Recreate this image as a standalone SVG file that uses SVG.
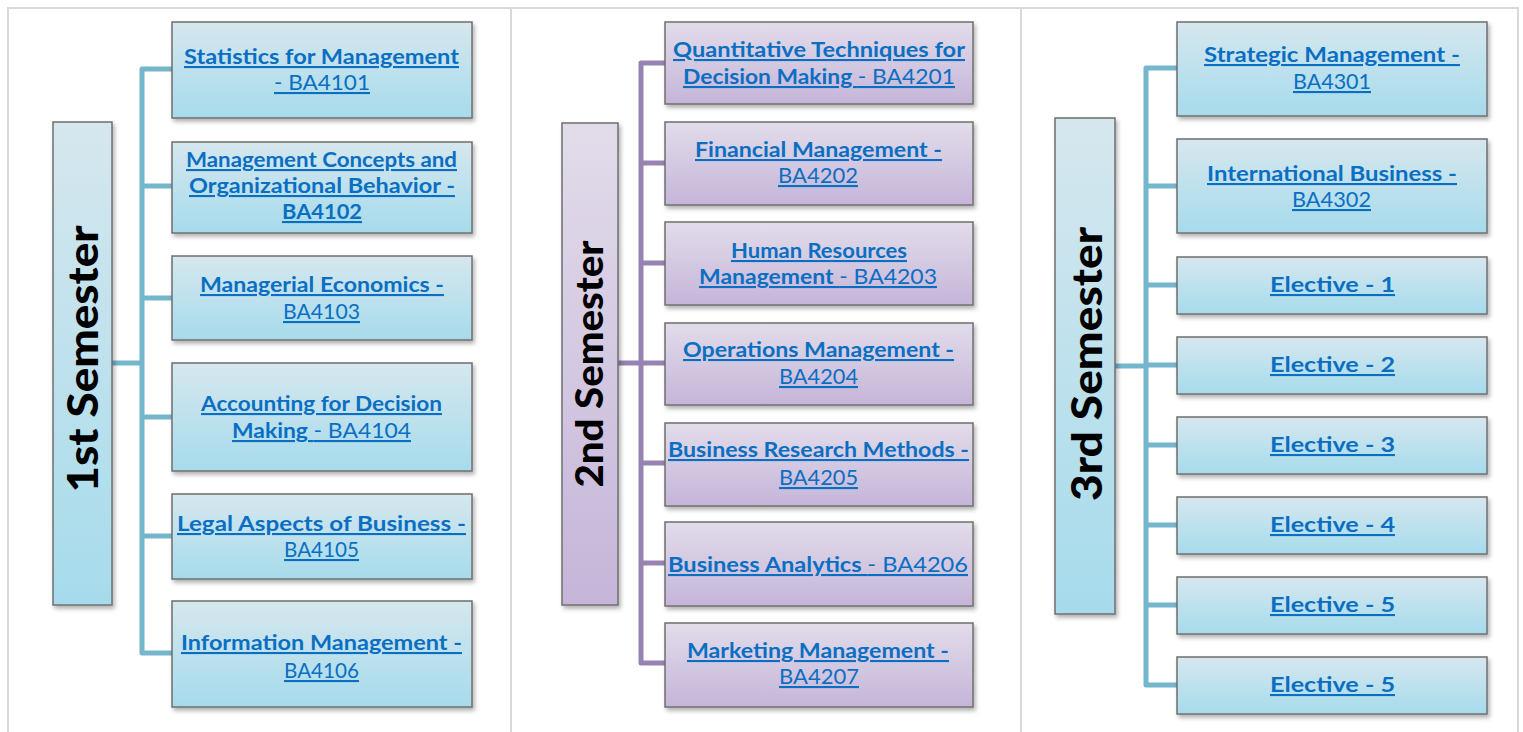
<svg xmlns="http://www.w3.org/2000/svg" width="1523" height="732" viewBox="0 0 1523 732">
<defs>
<linearGradient id="gBlue" x1="0" y1="0" x2="0" y2="1">
<stop offset="0" stop-color="#d6e7ee"/>
<stop offset="1" stop-color="#a6dbec"/>
</linearGradient>
<linearGradient id="gPurple" x1="0" y1="0" x2="0" y2="1">
<stop offset="0" stop-color="#e2dcea"/>
<stop offset="1" stop-color="#c5b5d9"/>
</linearGradient>
<filter id="sh" x="-10%" y="-10%" width="130%" height="130%">
<feDropShadow dx="2" dy="3" stdDeviation="2" flood-color="#000" flood-opacity="0.3"/>
</filter>
</defs>
<style>
.frame{fill:none;stroke:#d9d9d9;stroke-width:2}
.bb{fill:url(#gBlue);stroke:#6f6f6f;stroke-width:1.5;filter:url(#sh)}
.pb{fill:url(#gPurple);stroke:#6f6f6f;stroke-width:1.5;filter:url(#sh)}
.cb{fill:none;stroke:#74b6cb;stroke-width:5;stroke-linejoin:round}
.cp{fill:none;stroke:#9783b1;stroke-width:5;stroke-linejoin:round}
.t{font-family:Lato,"DejaVu Sans",sans-serif;font-size:21px;font-weight:bold;fill:#0a6fc2;text-decoration:underline}
.r{font-weight:normal}
.sem{font-family:Lato,"DejaVu Sans",sans-serif;font-weight:900;fill:#000;text-anchor:middle}
</style>
<rect width="1523" height="732" fill="#fff"/>
<g id="frame">
<path class="frame" d="M8 740 V8 H1518 V740 M511 8 V740 M1021 8 V740"/>
</g>
<g id="connectors">
<path class="cb" d="M112 363 H142"/>
<path class="cb" d="M172 69 H142 V653 H172 M142 186 H172 M142 298 H172 M142 417 H172 M142 536 H172"/>
<path class="cp" d="M618 363 H641"/>
<path class="cp" d="M665 63 H641 V663 H665 M641 163 H665 M641 263 H665 M641 363 H665 M641 463 H665 M641 563 H665"/>
<path class="cb" d="M1115 366 H1146"/>
<path class="cb" d="M1177 68 H1146 V685 H1177 M1146 186 H1177 M1146 285 H1177 M1146 365 H1177 M1146 445 H1177 M1146 525 H1177 M1146 605 H1177"/>
</g>
<g id="sem1"><rect class="bb" x="53" y="122" width="59" height="483"/><text class="sem" font-size="42" textLength="267" lengthAdjust="spacingAndGlyphs" transform="translate(98,359) rotate(-90)">1st Semester</text></g>
<g id="c4101"><rect class="bb" x="172" y="22" width="300" height="96"/><text class="t" x="184" y="64" textLength="275" lengthAdjust="spacingAndGlyphs">Statistics for Management</text><text class="t r" x="274" y="90" textLength="96" lengthAdjust="spacingAndGlyphs">- BA4101</text></g>
<g id="c4102"><rect class="bb" x="172" y="142" width="300" height="91"/><text class="t" x="186" y="167" textLength="271" lengthAdjust="spacingAndGlyphs">Management Concepts and</text><text class="t" x="189" y="193" textLength="266" lengthAdjust="spacingAndGlyphs">Organizational Behavior -</text><text class="t" x="282" y="219" textLength="80" lengthAdjust="spacingAndGlyphs">BA4102</text></g>
<g id="c4103"><rect class="bb" x="172" y="256" width="300" height="84"/><text class="t" x="200" y="292" textLength="244" lengthAdjust="spacingAndGlyphs">Managerial Economics -</text><text class="t r" x="283" y="319" textLength="77" lengthAdjust="spacingAndGlyphs">BA4103</text></g>
<g id="c4104"><rect class="bb" x="172" y="363" width="300" height="108"/><text class="t" x="201" y="411" textLength="241" lengthAdjust="spacingAndGlyphs">Accounting for Decision</text><text class="t" x="232" y="438" textLength="179" lengthAdjust="spacingAndGlyphs">Making <tspan class="r">- BA4104</tspan></text></g>
<g id="c4105"><rect class="bb" x="172" y="494" width="300" height="85"/><text class="t" x="177" y="531" textLength="289" lengthAdjust="spacingAndGlyphs">Legal Aspects of Business -</text><text class="t r" x="284" y="557" textLength="75" lengthAdjust="spacingAndGlyphs">BA4105</text></g>
<g id="c4106"><rect class="bb" x="172" y="601" width="300" height="106"/><text class="t" x="181" y="650" textLength="281" lengthAdjust="spacingAndGlyphs">Information Management -</text><text class="t r" x="284" y="678" textLength="75" lengthAdjust="spacingAndGlyphs">BA4106</text></g>
<g id="sem2"><rect class="pb" x="562" y="123" width="56" height="482"/><text class="sem" font-size="37" textLength="247" lengthAdjust="spacingAndGlyphs" transform="translate(603,364) rotate(-90)">2nd Semester</text></g>
<g id="c4201"><rect class="pb" x="665" y="22" width="308" height="82"/><text class="t" x="673" y="57" textLength="292" lengthAdjust="spacingAndGlyphs">Quantitative Techniques for</text><text class="t" x="683" y="84" textLength="272" lengthAdjust="spacingAndGlyphs">Decision Making <tspan class="r">- BA4201</tspan></text></g>
<g id="c4202"><rect class="pb" x="665" y="122" width="308" height="83"/><text class="t" x="695" y="157" textLength="247" lengthAdjust="spacingAndGlyphs">Financial Management -</text><text class="t r" x="778" y="183" textLength="80" lengthAdjust="spacingAndGlyphs">BA4202</text></g>
<g id="c4203"><rect class="pb" x="665" y="222" width="308" height="83"/><text class="t" x="731" y="258" textLength="176" lengthAdjust="spacingAndGlyphs">Human Resources</text><text class="t" x="699" y="284" textLength="238" lengthAdjust="spacingAndGlyphs">Management <tspan class="r">- BA4203</tspan></text></g>
<g id="c4204"><rect class="pb" x="665" y="323" width="308" height="82"/><text class="t" x="683" y="357" textLength="271" lengthAdjust="spacingAndGlyphs">Operations Management -</text><text class="t r" x="779" y="384" textLength="79" lengthAdjust="spacingAndGlyphs">BA4204</text></g>
<g id="c4205"><rect class="pb" x="665" y="423" width="308" height="83"/><text class="t" x="668" y="457" textLength="301" lengthAdjust="spacingAndGlyphs">Business Research Methods -</text><text class="t r" x="779" y="485" textLength="79" lengthAdjust="spacingAndGlyphs">BA4205</text></g>
<g id="c4206"><rect class="pb" x="665" y="522" width="308" height="84"/><text class="t" x="668" y="572" textLength="300" lengthAdjust="spacingAndGlyphs">Business Analytics <tspan class="r">- BA4206</tspan></text></g>
<g id="c4207"><rect class="pb" x="665" y="623" width="308" height="84"/><text class="t" x="687" y="658" textLength="262" lengthAdjust="spacingAndGlyphs">Marketing Management -</text><text class="t r" x="779" y="684" textLength="80" lengthAdjust="spacingAndGlyphs">BA4207</text></g>
<g id="sem3"><rect class="bb" x="1055" y="118" width="60" height="496"/><text class="sem" font-size="42" textLength="274" lengthAdjust="spacingAndGlyphs" transform="translate(1102,364) rotate(-90)">3rd Semester</text></g>
<g id="c4301"><rect class="bb" x="1177" y="22" width="310" height="94"/><text class="t" x="1204" y="62" textLength="256" lengthAdjust="spacingAndGlyphs">Strategic Management -</text><text class="t r" x="1293" y="89" textLength="78" lengthAdjust="spacingAndGlyphs">BA4301</text></g>
<g id="c4302"><rect class="bb" x="1177" y="139" width="310" height="94"/><text class="t" x="1207" y="181" textLength="250" lengthAdjust="spacingAndGlyphs">International Business -</text><text class="t r" x="1292" y="207" textLength="79" lengthAdjust="spacingAndGlyphs">BA4302</text></g>
<g id="e1"><rect class="bb" x="1177" y="257" width="310" height="57"/><text class="t" x="1270" y="292" textLength="125" lengthAdjust="spacingAndGlyphs">Elective - 1</text></g>
<g id="e2"><rect class="bb" x="1177" y="337" width="310" height="57"/><text class="t" x="1270" y="372" textLength="125" lengthAdjust="spacingAndGlyphs">Elective - 2</text></g>
<g id="e3"><rect class="bb" x="1177" y="417" width="310" height="57"/><text class="t" x="1270" y="452" textLength="125" lengthAdjust="spacingAndGlyphs">Elective - 3</text></g>
<g id="e4"><rect class="bb" x="1177" y="497" width="310" height="57"/><text class="t" x="1270" y="532" textLength="125" lengthAdjust="spacingAndGlyphs">Elective - 4</text></g>
<g id="e5a"><rect class="bb" x="1177" y="577" width="310" height="57"/><text class="t" x="1270" y="612" textLength="125" lengthAdjust="spacingAndGlyphs">Elective - 5</text></g>
<g id="e5b"><rect class="bb" x="1177" y="657" width="310" height="57"/><text class="t" x="1270" y="692" textLength="125" lengthAdjust="spacingAndGlyphs">Elective - 5</text></g>
</svg>
